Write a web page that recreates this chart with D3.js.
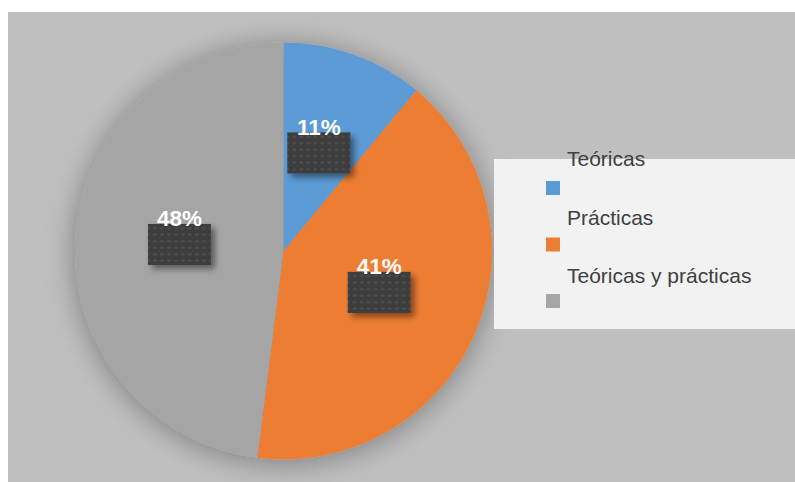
<!DOCTYPE html>
<html>
<head>
<meta charset="utf-8">
<script src="https://cdn.jsdelivr.net/npm/d3@7"></script>
<style>
  html, body { margin: 0; padding: 0; background: #ffffff; }
  svg { display: block; }
</style>
</head>
<body>
<div id="chart"></div>
<script>
// Category names, shares (percent) and slice colours
const categories = ["Teóricas", "Prácticas", "Teóricas y prácticas"];
const shares = [11, 41, 48];
const sliceColors = ["#5b9bd5", "#ed7d31", "#a5a5a5"];

const W = 795, H = 482;
const svg = d3.select("#chart").append("svg")
  .attr("width", W).attr("height", H);

const defs = svg.append("defs");

// soft shadow round the pie
const pieShadow = defs.append("filter").attr("id", "pieShadow")
  .attr("x", "-30%").attr("y", "-30%").attr("width", "160%").attr("height", "160%");
pieShadow.append("feDropShadow")
  .attr("dx", 0).attr("dy", 3).attr("stdDeviation", 15)
  .attr("flood-color", "#000").attr("flood-opacity", 0.35);

// shadow under the label boxes
const boxShadow = defs.append("filter").attr("id", "boxShadow")
  .attr("x", "-30%").attr("y", "-30%").attr("width", "160%").attr("height", "160%");
boxShadow.append("feDropShadow")
  .attr("dx", 4).attr("dy", 4).attr("stdDeviation", 3)
  .attr("flood-color", "#000").attr("flood-opacity", 0.45);

// textured fill of the label boxes
const pat = defs.append("pattern").attr("id", "boxTexture")
  .attr("patternUnits", "userSpaceOnUse").attr("width", 7).attr("height", 6.5);
pat.append("rect").attr("width", 7).attr("height", 6.5).attr("fill", "#3d3d3d");
pat.append("ellipse").attr("cx", 3.5).attr("cy", 3.2).attr("rx", 2).attr("ry", 1.1)
  .attr("fill", "#4e4e4e");
pat.append("circle").attr("cx", 0).attr("cy", 0).attr("r", 0.8).attr("fill", "#454545");

// chart area background
svg.append("rect")
  .attr("x", 8).attr("y", 12).attr("width", W - 8).attr("height", H - 12)
  .attr("fill", "#bfbfbf");

// pie
const cx = 283.5, cy = 251, R = 208.5;
const pie = d3.pie().sort(null).value(d => d.value);
const arc = d3.arc().innerRadius(0).outerRadius(R);
const data = categories.map((c, i) => ({ name: c, value: shares[i], color: sliceColors[i] }));
const arcs = pie(data);

const g = svg.append("g").attr("transform", `translate(${cx},${cy})`);
g.append("g").attr("filter", "url(#pieShadow)")
  .selectAll("path").data(arcs).join("path")
  .attr("d", arc)
  .attr("fill", d => d.data.color);

// data labels: textured box centred on the slice centroid, value on its top edge
const boxW = 63, boxH = 41;
const labels = g.selectAll("g.lbl").data(arcs).join("g").attr("class", "lbl")
  .attr("transform", d => { const [x, y] = arc.centroid(d); return `translate(${x},${y})`; });
labels.append("rect")
  .attr("x", -boxW / 2).attr("y", -boxH / 2)
  .attr("width", boxW).attr("height", boxH)
  .attr("fill", "url(#boxTexture)")
  .attr("filter", "url(#boxShadow)");
labels.append("text")
  .attr("x", 0).attr("y", -boxH / 2 + 2.5)
  .attr("text-anchor", "middle")
  .attr("font-family", "Liberation Sans, Arial, sans-serif")
  .attr("font-weight", "bold")
  .attr("font-size", 22.5)
  .attr("fill", "#ffffff")
  .text(d => d.data.value + "%");

// legend
const legend = svg.append("g");
legend.append("rect")
  .attr("x", 494).attr("y", 159).attr("width", W - 494).attr("height", 170)
  .attr("fill", "#f2f2f2");
const textY = d3.scaleLinear().domain([0, 2]).range([166, 283]);
const keyY = d3.scaleLinear().domain([0, 2]).range([181, 294]);
const items = legend.selectAll("g.item").data(data).join("g").attr("class", "item");
items.append("rect")
  .attr("x", 546).attr("y", (d, i) => keyY(i))
  .attr("width", 14).attr("height", 14)
  .attr("fill", d => d.color);
items.append("text")
  .attr("x", 567).attr("y", (d, i) => textY(i))
  .attr("font-family", "Liberation Sans, Arial, sans-serif")
  .attr("font-size", 21)
  .attr("fill", "#404040")
  .text(d => d.name);
</script>
</body>
</html>
